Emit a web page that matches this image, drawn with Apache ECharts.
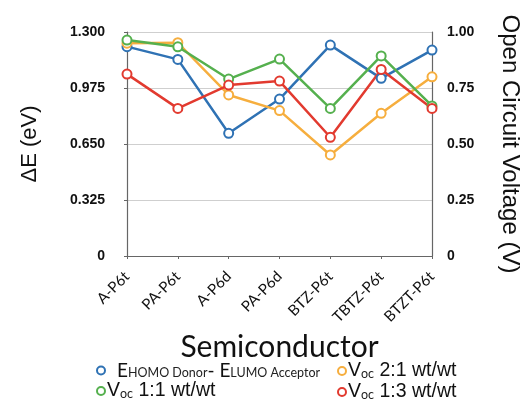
<!DOCTYPE html>
<html>
<head>
<meta charset="utf-8">
<script src="https://cdn.jsdelivr.net/npm/echarts@6/dist/echarts.min.js"></script>
<style>
  html, body { margin: 0; padding: 0; background: #fff; }
  #chart { width: 529px; height: 404px; }
</style>
</head>
<body>
<div id="chart"></div>
<script>
// Semiconductors along the x axis
const categories = ['A-P6t', 'PA-P6t', 'A-P6d', 'PA-P6d', 'BTZ-P6t', 'TBTZ-P6t', 'BTZT-P6t'];

// Energy offset E_HOMO(donor) - E_LUMO(acceptor), eV (left axis)
const deltaE = [1.215, 1.141, 0.712, 0.911, 1.224, 1.031, 1.195];

// Open circuit voltage at different blend ratios, V (right axis)
const voc21 = [0.950, 0.952, 0.719, 0.649, 0.451, 0.637, 0.800];
const voc11 = [0.964, 0.934, 0.790, 0.879, 0.659, 0.893, 0.670];
const voc13 = [0.812, 0.659, 0.763, 0.781, 0.530, 0.833, 0.659];

// Tick values for both y axes
const leftTicks = [0, 0.325, 0.650, 0.975, 1.300];
const rightTicks = [0, 0.25, 0.50, 0.75, 1.00];

const colors = {
  blue: '#2f72b4',
  orange: '#f6ae3e',
  green: '#55b04e',
  red: '#e23a2f'
};

const chart = echarts.init(document.getElementById('chart'));

const tickFont = { fontFamily: 'Liberation Sans', fontWeight: 'bold', fontSize: 14, color: '#111' };
const legendRich = {
  sub: { fontFamily: 'Lato', fontSize: 12.5, color: '#222', verticalAlign: 'bottom', lineHeight: 14 },
  main: { fontFamily: 'Liberation Sans', fontSize: 19.5, color: '#111', lineHeight: 18 },
  mainE: { fontFamily: 'Lato', fontSize: 19, color: '#111', lineHeight: 18 },
  gap: { width: 10 }
};

function lineSeries(name, data, color, yAxisIndex) {
  return {
    name: name,
    type: 'line',
    yAxisIndex: yAxisIndex,
    data: data,
    symbol: 'emptyCircle',
    symbolSize: 9,
    showSymbol: true,
    lineStyle: { width: 2.5, color: color },
    itemStyle: { color: color, borderColor: color, borderWidth: 2.5 },
    emphasis: { disabled: true },
    animation: false
  };
}

const nameE = 'E';
const name21 = 'V21';
const name11 = 'V11';
const name13 = 'V13';

const legendLabels = {
  E: '{gap|}{mainE|E}{sub|HOMO Donor}{mainE|- E}{sub|LUMO Acceptor}',
  V21: '{main|V}{sub|oc}{main| 2:1 wt/wt}',
  V11: '{main|V}{sub|oc}{main| 1:1 wt/wt}',
  V13: '{main|V}{sub|oc}{main| 1:3 wt/wt}'
};

const legendBase = {
  orient: 'vertical',
  top: 361,
  height: 60,
  padding: 0,
  itemGap: 1,
  itemWidth: 8,
  itemHeight: 8,
  icon: 'emptyCircle',
  formatter: n => legendLabels[n],
  textStyle: { rich: legendRich, padding: [0, 0, 0, -3] },
  selectedMode: false
};

chart.setOption({
  backgroundColor: '#fff',
  grid: { left: 127, right: 97, top: 32, bottom: 148, containLabel: false, outerBoundsMode: 'none' },
  legend: [
    Object.assign({}, legendBase, { data: [nameE, name11], left: 96 }),
    Object.assign({}, legendBase, { data: [name21, name13], left: 337 })
  ],
  xAxis: {
    type: 'category',
    data: categories,
    boundaryGap: false,
    name: 'Semiconductor',
    nameLocation: 'middle',
    nameGap: 68,
    nameTextStyle: { fontFamily: 'Lato', fontSize: 30, color: '#111' },
    axisLine: { show: true, lineStyle: { color: '#666', width: 1.2 } },
    axisTick: { show: true, alignWithLabel: true, length: 3, lineStyle: { color: '#666' } },
    axisLabel: {
      rotate: 45,
      margin: 18,
      fontFamily: 'Lato',
      fontSize: 15,
      color: '#111',
      interval: 0
    },
    splitLine: { show: false }
  },
  yAxis: [
    {
      type: 'value',
      min: 0,
      max: 1.3,
      interval: 0.325,
      name: 'ΔE (eV)',
      nameLocation: 'middle',
      nameGap: 86,
      nameRotate: 90,
      nameTextStyle: { fontFamily: 'Liberation Sans', fontSize: 22, color: '#111' },
      axisLine: { show: true, lineStyle: { color: '#666', width: 1.2 } },
      axisTick: { show: true, length: 3, lineStyle: { color: '#666' } },
      axisLabel: Object.assign({}, tickFont, {
        margin: 22,
        formatter: v => {
          const t = leftTicks.find(x => Math.abs(x - v) < 1e-6);
          if (t === undefined) return '';
          return t === 0 ? '0' : t.toFixed(3);
        }
      }),
      splitLine: { show: true, lineStyle: { color: '#cfcfcf', width: 1 } }
    },
    {
      type: 'value',
      min: 0,
      max: 1.0,
      interval: 0.25,
      position: 'right',
      name: 'Open Circuit Voltage (V)',
      nameLocation: 'middle',
      nameGap: 66,
      nameRotate: -90,
      nameTextStyle: { fontFamily: 'Liberation Sans', fontSize: 24, color: '#111' },
      axisLine: { show: true, lineStyle: { color: '#666', width: 1.2 } },
      axisTick: { show: false },
      axisLabel: Object.assign({}, tickFont, {
        margin: 15,
        formatter: v => {
          const t = rightTicks.find(x => Math.abs(x - v) < 1e-6);
          if (t === undefined) return '';
          return t === 0 ? '0' : t.toFixed(2);
        }
      }),
      splitLine: { show: false }
    }
  ],
  series: [
    lineSeries(nameE, deltaE, colors.blue, 0),
    lineSeries(name21, voc21, colors.orange, 1),
    lineSeries(name11, voc11, colors.green, 1),
    lineSeries(name13, voc13, colors.red, 1)
  ]
});
</script>
</body>
</html>
